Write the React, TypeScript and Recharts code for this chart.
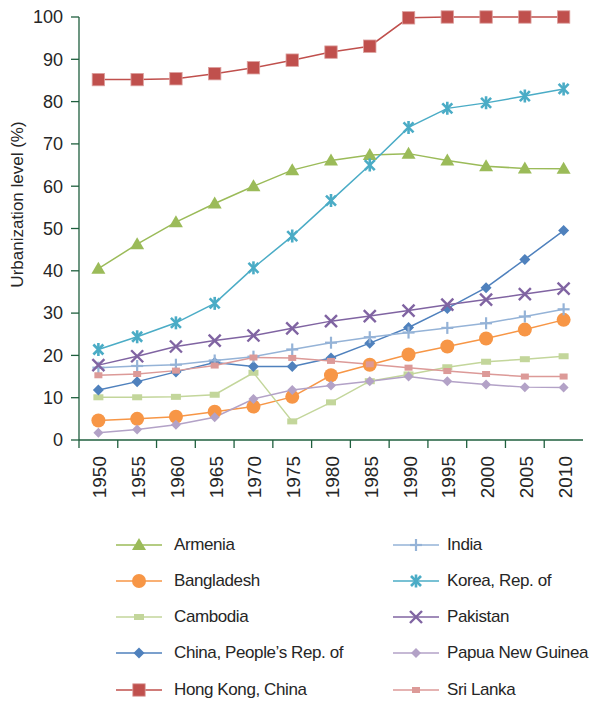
import React from "react";
import { LineChart, Line, XAxis, YAxis, Legend } from "recharts";

const years = [1950, 1955, 1960, 1965, 1970, 1975, 1980, 1985, 1990, 1995, 2000, 2005, 2010];
const armenia = [40.5, 46.3, 51.5, 55.9, 60.0, 63.8, 66.1, 67.4, 67.7, 66.1, 64.7, 64.2, 64.1];
const bangladesh = [4.6, 5.0, 5.5, 6.7, 7.9, 10.2, 15.3, 17.8, 20.2, 22.1, 24.0, 26.1, 28.4];
const cambodia = [10.1, 10.1, 10.2, 10.7, 15.9, 4.4, 8.9, 13.9, 15.5, 17.2, 18.5, 19.1, 19.8];
const china = [11.8, 13.8, 16.1, 18.3, 17.4, 17.4, 19.4, 22.9, 26.6, 31.1, 36.0, 42.7, 49.5];
const hongKong = [85.2, 85.2, 85.4, 86.6, 88.0, 89.8, 91.7, 93.1, 99.8, 100, 100, 100, 100];
const india = [17.1, 17.5, 17.8, 18.8, 19.7, 21.4, 23.0, 24.3, 25.4, 26.5, 27.6, 29.2, 30.9];
const korea = [21.4, 24.4, 27.7, 32.3, 40.7, 48.2, 56.6, 65.0, 73.9, 78.4, 79.7, 81.3, 83.0];
const pakistan = [17.7, 19.8, 22.1, 23.5, 24.7, 26.4, 28.1, 29.3, 30.6, 32.0, 33.2, 34.5, 35.8];
const papua = [1.7, 2.5, 3.6, 5.4, 9.7, 11.8, 12.9, 13.9, 15.0, 13.9, 13.1, 12.5, 12.4];
const sriLanka = [15.3, 15.6, 16.4, 17.6, 19.5, 19.4, 18.7, 17.9, 17.1, 16.3, 15.6, 15.0, 15.0];

const yTicks = [0, 10, 20, 30, 40, 50, 60, 70, 80, 90, 100];
const xBoundaryTicks = years.map((y) => y - 2.5);

const FONT = "'Liberation Sans', Arial, sans-serif";
const AXIS = "#1f5f3e";
const TEXT = "#262626";

const W = 582;
const H = 696;
const M = { top: 9, right: 7, left: 10, bottom: 184 };
const Y_W = 61;
const X_H = 80;
const PLOT_W = W - M.left - M.right - Y_W;
const HALF = PLOT_W / years.length / 2;

type Shape = "triangle" | "circle" | "rect" | "diamond" | "square" | "plus" | "asterisk" | "cross" | "smalldiamond" | "smallrect";

interface Series {
  key: string;
  name: string;
  color: string;
  shape: Shape;
  values: number[];
}

const seriesList: Series[] = [
  { key: "armenia", name: "Armenia", color: "#9bbb59", shape: "triangle", values: armenia },
  { key: "bangladesh", name: "Bangladesh", color: "#f79646", shape: "circle", values: bangladesh },
  { key: "cambodia", name: "Cambodia", color: "#c3d69b", shape: "rect", values: cambodia },
  { key: "china", name: "China, People\u2019s Rep. of", color: "#4f81bd", shape: "diamond", values: china },
  { key: "hongkong", name: "Hong Kong, China", color: "#c0504d", shape: "square", values: hongKong },
  { key: "india", name: "India", color: "#95b3d7", shape: "plus", values: india },
  { key: "korea", name: "Korea, Rep. of", color: "#4bacc6", shape: "asterisk", values: korea },
  { key: "pakistan", name: "Pakistan", color: "#8064a2", shape: "cross", values: pakistan },
  { key: "papua", name: "Papua New Guinea", color: "#b3a2c7", shape: "smalldiamond", values: papua },
  { key: "srilanka", name: "Sri Lanka", color: "#dc9a98", shape: "smallrect", values: sriLanka },
];

const data = years.map((year, i) => {
  const row: Record<string, number> = { year };
  seriesList.forEach((s) => {
    row[s.key] = s.values[i];
  });
  return row;
});

function Marker({ shape, color, cx, cy }: { shape: Shape; color: string; cx: number; cy: number }) {
  switch (shape) {
    case "triangle":
      return <polygon points={`${cx},${cy - 7} ${cx + 7},${cy + 5} ${cx - 7},${cy + 5}`} fill={color} />;
    case "circle":
      return <circle cx={cx} cy={cy} r={7} fill={color} />;
    case "rect":
      return <rect x={cx - 5} y={cy - 3} width={10} height={6} fill={color} />;
    case "diamond":
      return <polygon points={`${cx},${cy - 5.5} ${cx + 5.5},${cy} ${cx},${cy + 5.5} ${cx - 5.5},${cy}`} fill={color} />;
    case "square":
      return <rect x={cx - 6.2} y={cy - 6.2} width={12.4} height={12.4} fill={color} stroke="#dca09e" strokeWidth={0.8} />;
    case "plus":
      return (
        <g stroke={color} strokeWidth={2.2}>
          <line x1={cx - 6} y1={cy} x2={cx + 6} y2={cy} />
          <line x1={cx} y1={cy - 6} x2={cx} y2={cy + 6} />
        </g>
      );
    case "asterisk":
      return (
        <g stroke={color} strokeWidth={2.6}>
          <line x1={cx - 5} y1={cy - 5} x2={cx + 5} y2={cy + 5} />
          <line x1={cx - 5} y1={cy + 5} x2={cx + 5} y2={cy - 5} />
          <line x1={cx} y1={cy - 6.5} x2={cx} y2={cy + 6.5} />
        </g>
      );
    case "cross":
      return (
        <g stroke={color} strokeWidth={2.4}>
          <line x1={cx - 6} y1={cy - 6} x2={cx + 6} y2={cy + 6} />
          <line x1={cx - 6} y1={cy + 6} x2={cx + 6} y2={cy - 6} />
        </g>
      );
    case "smalldiamond":
      return <polygon points={`${cx},${cy - 5} ${cx + 5},${cy} ${cx},${cy + 5} ${cx - 5},${cy}`} fill={color} />;
    case "smallrect":
      return <rect x={cx - 4} y={cy - 3} width={8} height={6} fill={color} />;
    default:
      return null;
  }
}

const makeDot = (s: Series) => (props: any) => {
  const { cx, cy, index } = props;
  if (cx == null || cy == null) return <g key={`${s.key}-${index}`} />;
  return (
    <g key={`${s.key}-${index}`}>
      <Marker shape={s.shape} color={s.color} cx={cx} cy={cy} />
    </g>
  );
};

const XTick = (props: any) => {
  const { x, y, payload } = props;
  return (
    <text
      transform={`translate(${x + HALF + 1.5}, ${y + 6}) rotate(-90)`}
      textAnchor="end"
      dominantBaseline="central"
      fontFamily={FONT}
      fontSize={19}
      fill={TEXT}
    >
      {Math.round(payload.value + 2.5)}
    </text>
  );
};

const YTitle = (props: any) => {
  const vb = props.viewBox || { x: 0, y: 0, width: 0, height: 0 };
  const cx = vb.x - 0.5;
  const cy = vb.y + vb.height / 2 - 24;
  return (
    <text
      transform={`translate(${cx}, ${cy}) rotate(-90)`}
      textAnchor="middle"
      dominantBaseline="central"
      fontFamily={FONT}
      fontSize={17}
      fill={TEXT}
    >
      Urbanization level (%)
    </text>
  );
};

const rowsY = [537, 573, 609, 645, 682];
const colIconX = [108, 385];
const colTextX = [166, 439];

const LegendContent = () => (
  <div style={{ position: "relative", width: W, height: H }}>
    {seriesList.map((s, i) => {
      const col = i < 5 ? 0 : 1;
      const row = i % 5;
      const cy = rowsY[row];
      return (
        <React.Fragment key={s.key}>
          <svg
            width={46}
            height={16}
            style={{ position: "absolute", left: colIconX[col], top: cy - 8 }}
          >
            <line x1={0} y1={8} x2={46} y2={8} stroke={s.color} strokeWidth={1.5} />
            <Marker shape={s.shape} color={s.color} cx={23} cy={8} />
          </svg>
          <div
            style={{
              position: "absolute",
              left: colTextX[col],
              top: cy - 8,
              height: 16,
              lineHeight: "16px",
              fontFamily: FONT,
              fontSize: 17,
              letterSpacing: "-0.4px",
              color: TEXT,
              whiteSpace: "nowrap",
            }}
          >
            {s.name}
          </div>
        </React.Fragment>
      );
    })}
  </div>
);

export default function App() {
  return (
    <LineChart width={W} height={H} data={data} margin={M}>
      <XAxis
        dataKey="year"
        type="number"
        domain={[1947.5, 2012.5]}
        ticks={xBoundaryTicks}
        interval={0}
        height={X_H}
        stroke={AXIS}
        tickSize={8}
        tickLine={{ stroke: AXIS, strokeWidth: 1.3 }}
        axisLine={{ stroke: AXIS, strokeWidth: 1.3 }}
        tick={<XTick />}
        allowDataOverflow
      />
      <YAxis
        type="number"
        domain={[0, 100]}
        ticks={yTicks}
        interval={0}
        width={Y_W}
        tickSize={8}
        tickMargin={8}
        stroke={AXIS}
        tickLine={{ stroke: AXIS, strokeWidth: 1.3 }}
        axisLine={{ stroke: AXIS, strokeWidth: 1.3 }}
        tick={{ fill: TEXT, fontSize: 18, fontFamily: FONT }}
        label={{ content: <YTitle /> }}
      />
      {seriesList.map((s) => (
        <Line
          key={s.key}
          dataKey={s.key}
          name={s.name}
          type="linear"
          stroke={s.color}
          strokeWidth={1.5}
          dot={makeDot(s)}
          activeDot={false}
          isAnimationActive={false}
        />
      ))}
      <Legend
        layout="horizontal"
        verticalAlign="middle"
        align="center"
        content={<LegendContent />}
        wrapperStyle={{ position: "absolute", left: 0, top: 0, width: W, height: H, pointerEvents: "none" }}
      />
    </LineChart>
  );
}
